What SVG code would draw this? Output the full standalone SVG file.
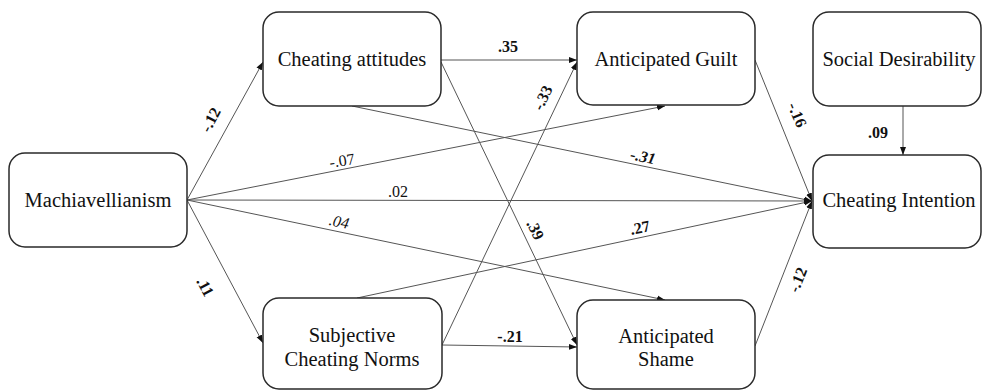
<svg xmlns="http://www.w3.org/2000/svg" width="982" height="391" viewBox="0 0 982 391">
<defs>
<marker id="ah" markerUnits="userSpaceOnUse" markerWidth="9" markerHeight="7" refX="8" refY="3.5" orient="auto">
<path d="M0,0.5 L8,3.5 L0,6.5 z" fill="#111"/>
</marker>
<style>
.box{fill:#fff;stroke:#2a2a2a;stroke-width:1.5}
.nt{font-family:'Liberation Serif','DejaVu Serif',Times,serif;font-size:20.5px;fill:#111;text-anchor:middle}
.ln{stroke:#555;stroke-width:1;fill:none;marker-end:url(#ah)}
.lb{font-family:'Liberation Serif','DejaVu Serif',Times,serif;font-size:16px;fill:#111;text-anchor:middle}
.b{font-weight:bold}
.i{font-style:italic}
</style>
</defs>
<rect width="982" height="391" fill="#fff"/>
<g id="connectors">
<line class="ln" x1="187" y1="200" x2="263" y2="62"/>
<line class="ln" x1="187" y1="200" x2="263" y2="343"/>
<line class="ln" x1="187" y1="200" x2="665" y2="106"/>
<line class="ln" x1="187" y1="200" x2="812" y2="201"/>
<line class="ln" x1="187" y1="200" x2="665" y2="300"/>
<line class="ln" x1="441" y1="60" x2="577" y2="60"/>
<line class="ln" x1="441" y1="62" x2="577" y2="345"/>
<line class="ln" x1="352" y1="106" x2="812" y2="201"/>
<line class="ln" x1="442" y1="345" x2="577" y2="62"/>
<line class="ln" x1="357" y1="298" x2="812" y2="201"/>
<line class="ln" x1="442" y1="345" x2="577" y2="347"/>
<line class="ln" x1="755" y1="60" x2="812" y2="201"/>
<line class="ln" x1="755" y1="346" x2="812" y2="201"/>
<line class="ln" x1="903" y1="106" x2="903" y2="155"/>
</g>
<g id="labels">
<text class="lb b" transform="translate(211,120) rotate(-62)" y="5">-.12</text>
<text class="lb b" transform="translate(205,287) rotate(62)" y="5">.11</text>
<text class="lb" transform="translate(342,161) rotate(-9)" y="5">-.07</text>
<text class="lb" x="398" y="197">.02</text>
<text class="lb i" transform="translate(339,222) rotate(12)" y="5">.04</text>
<text class="lb b" x="508" y="52">.35</text>
<text class="lb b" transform="translate(543,98) rotate(-64)" y="5">-.33</text>
<text class="lb b i" transform="translate(643,157) rotate(12)" y="5">-.31</text>
<text class="lb b" transform="translate(535,230) rotate(64)" y="5">.39</text>
<text class="lb b" transform="translate(640,228) rotate(-12)" y="5">.27</text>
<text class="lb b" x="510" y="342">-.21</text>
<text class="lb b" transform="translate(797,115) rotate(67)" y="5">-.16</text>
<text class="lb b" x="878" y="138">.09</text>
<text class="lb b" transform="translate(798,280) rotate(-68)" y="5">-.12</text>
</g>
<g id="mach"><rect class="box" x="9" y="153" width="178" height="94" rx="16"/><text class="nt" x="98" y="207">Machiavellianism</text></g>
<g id="attitudes"><rect class="box" x="263" y="12" width="178" height="94" rx="16"/><text class="nt" x="352" y="66">Cheating attitudes</text></g>
<g id="guilt"><rect class="box" x="577" y="12" width="178" height="93" rx="16"/><text class="nt" x="666" y="66">Anticipated Guilt</text></g>
<g id="social"><rect class="box" x="813" y="12" width="168" height="94" rx="16"/><text class="nt" x="899" y="66">Social Desirability</text></g>
<g id="intention"><rect class="box" x="813" y="155" width="168" height="93" rx="16"/><text class="nt" x="899" y="207">Cheating Intention</text></g>
<g id="norms"><rect class="box" x="263" y="298" width="179" height="91" rx="16"/><text class="nt" x="352" y="342">Subjective</text><text class="nt" x="352" y="366">Cheating Norms</text></g>
<g id="shame"><rect class="box" x="577" y="300" width="178" height="89" rx="16"/><text class="nt" x="666" y="343">Anticipated</text><text class="nt" x="666" y="366">Shame</text></g>
</svg>
